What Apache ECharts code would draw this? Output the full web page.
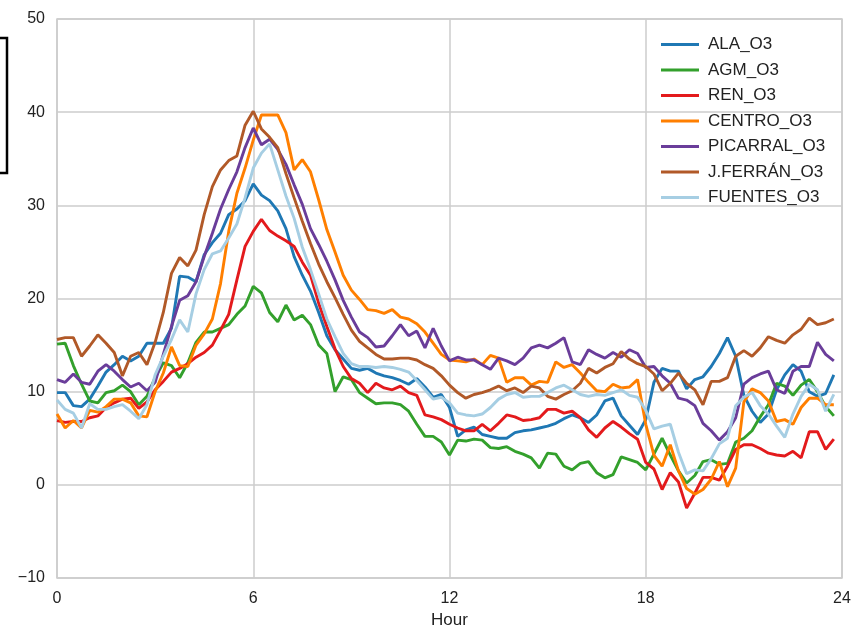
<!DOCTYPE html>
<html>
<head>
<meta charset="utf-8">
<title>O3 by hour</title>
<script src="https://cdn.jsdelivr.net/npm/echarts@6/dist/echarts.min.js"></script>
<style>
  html, body { margin: 0; padding: 0; background: #ffffff; }
  #chart { width: 854px; height: 632px; }
</style>
</head>
<body>
<div id="chart"></div>
<script>
// Quarter-hour sampling times over one day
const hours = Array.from({ length: 96 }, (_, i) => i * 0.25);

const xTicks = [0, 6, 12, 18, 24];
const yTicks = [-10, 0, 10, 20, 30, 40, 50];

const stationNames = ['ALA_O3', 'AGM_O3', 'REN_O3', 'CENTRO_O3', 'PICARRAL_O3', 'J.FERRÁN_O3', 'FUENTES_O3'];

const ala = [
  9.9, 9.9, 8.5, 8.4, 9.2, 10.6, 12.1, 12.9, 13.8, 13.3,
  13.8, 15.2, 15.2, 15.2, 16.8, 22.4, 22.3, 21.8, 24.7, 26.0,
  27.0, 29.0, 29.6, 30.5, 32.3, 31.1, 30.5, 29.4, 27.5, 24.5,
  22.5, 20.8, 18.5, 16.0, 14.5, 13.5, 12.5, 12.3, 12.5, 12.0,
  11.7, 11.5, 11.2, 10.8, 11.4, 10.5, 9.4, 9.7, 8.3, 5.2,
  5.9, 6.2, 5.4, 5.2, 5.0, 5.0, 5.6, 5.8, 5.9, 6.1,
  6.3, 6.6, 7.1, 7.5, 7.2, 6.7, 7.5, 9.0, 9.3, 7.4,
  6.4, 5.4, 7.0, 11.0, 12.5, 12.2, 12.2, 10.3, 11.3, 11.6,
  12.7, 14.1, 15.8, 13.8, 9.6, 7.9, 6.7, 7.6, 10.2, 11.8,
  12.9, 12.2, 10.0, 9.5, 9.8, 11.8
];

const agm = [
  15.1, 15.2, 12.8, 10.8, 9.0, 8.8, 9.9, 10.1, 10.7, 10.0,
  8.6, 9.5, 11.5, 13.1, 12.8, 11.5, 13.1, 15.3, 16.4, 16.4,
  16.8, 17.2, 18.3, 19.2, 21.3, 20.6, 18.5, 17.5, 19.3, 17.7,
  18.2, 17.2, 15.0, 14.1, 10.0, 11.6, 11.3, 9.9, 9.3, 8.7,
  8.8, 8.8, 8.6, 7.9, 6.5, 5.2, 5.2, 4.6, 3.2, 4.8,
  4.7, 4.9, 4.8, 4.0, 3.9, 4.1, 3.6, 3.3, 2.9, 1.8,
  3.4, 3.3, 2.0, 1.6, 2.3, 2.5, 1.3, 0.75, 1.1, 3.0,
  2.7, 2.4, 1.6, 3.3, 5.0, 3.2, 1.5, 0.2, 1.0, 2.5,
  2.7, 2.2, 2.3, 4.6, 5.0, 5.8, 7.3, 8.6, 10.9, 10.6,
  9.6, 10.7, 11.3, 10.0, 8.4, 7.4
];

const ren = [
  6.9, 6.7, 6.8, 6.8, 7.2, 7.4, 8.3, 8.8, 9.2, 9.3,
  8.2, 8.9, 10.2, 11.1, 12.1, 12.5, 13.0, 13.7, 14.2, 15.0,
  16.6, 18.3, 22.0, 25.6, 27.2, 28.5, 27.3, 26.7, 26.2, 25.6,
  23.9, 22.5, 19.5, 17.0, 14.6, 12.7, 11.4, 10.9, 9.9, 10.9,
  10.4, 10.2, 10.6, 9.9, 9.6, 7.5, 7.3, 7.0, 6.5, 6.1,
  5.8, 5.8, 6.5, 5.8, 6.6, 7.5, 7.3, 6.9, 7.0, 7.2,
  8.1, 8.1, 7.7, 7.9, 7.2, 5.9, 5.1, 6.1, 6.8, 6.2,
  5.5, 4.9, 2.4, 1.7, -0.5, 1.3, 0.3, -2.5, -0.9, 0.8,
  0.8, 0.5, 2.0, 3.8, 4.3, 4.3, 3.9, 3.4, 3.2, 3.1,
  3.6, 2.9, 5.7, 5.7, 3.8, 4.9
];

const centro = [
  7.6, 6.1, 6.9, 6.1, 8.0, 7.8, 8.4, 9.2, 9.2, 8.8,
  7.4, 7.3, 10.0, 12.0, 14.8, 12.8, 12.7, 15.0, 16.2, 17.8,
  21.6, 27.2, 31.3, 34.0, 37.0, 39.7, 39.7, 39.7, 37.8, 33.8,
  34.9, 33.6, 30.6, 27.4, 25.0, 22.5, 20.9, 19.9, 18.8, 18.7,
  18.4, 18.8, 18.0, 17.8, 17.3, 16.4, 15.2, 14.0, 13.4, 13.3,
  13.2, 13.5, 12.9, 13.9, 13.6, 11.0, 11.5, 11.5, 10.7, 11.1,
  11.0, 13.2, 12.6, 12.9, 12.0, 11.0, 10.1, 10.0, 10.8, 10.4,
  10.5, 11.3, 6.5, 3.2, 2.0, 4.3, 1.5, -0.4, -1.0, -0.5,
  0.6, 2.5, -0.2, 1.8, 8.9, 10.3, 9.9, 9.0, 6.8, 7.0,
  6.5, 8.3, 9.3, 9.3, 8.6, 8.6
];

const picarral = [
  11.3, 11.0, 11.9, 11.0, 10.8, 12.2, 12.9, 12.2, 11.3, 10.5,
  10.9, 10.1, 11.0, 14.0, 17.0, 19.8, 20.3, 21.8, 24.5, 27.0,
  29.6, 31.7, 33.6, 36.2, 38.3, 36.5, 37.1, 36.0, 34.4, 32.2,
  30.1, 27.5, 25.8, 24.0, 22.0, 19.8, 18.0, 16.4, 15.8, 14.8,
  14.9, 16.0, 17.2, 16.0, 16.5, 14.7, 16.8, 14.9, 13.3, 13.7,
  13.4, 13.4, 12.9, 12.4, 13.6, 13.3, 12.9, 13.6, 14.7, 15.0,
  14.7, 15.2, 15.8, 13.2, 12.9, 14.5, 14.0, 13.6, 14.2, 13.7,
  14.5, 14.1, 12.6, 12.7, 11.7, 10.9, 9.3, 9.1, 8.5, 6.6,
  5.8, 4.8, 5.7, 7.2, 10.8, 11.5, 11.9, 12.2, 10.2, 9.8,
  12.2, 12.7, 12.7, 15.3, 14.0, 13.3
];

const jferran = [
  15.6, 15.8, 15.8, 13.8, 14.9, 16.1, 15.2, 14.2, 11.7, 13.8,
  14.2, 12.9, 15.3, 18.5, 22.7, 24.4, 23.5, 25.2, 29.0, 32.0,
  33.8, 34.8, 35.3, 38.6, 40.1, 38.2, 37.3, 36.2, 33.4, 30.8,
  28.3, 25.9, 23.7, 21.8, 20.1, 18.3, 16.6, 15.4, 14.7, 14.0,
  13.5, 13.5, 13.6, 13.6, 13.4, 12.9, 12.5, 11.7, 10.7, 9.9,
  9.3, 9.7, 9.9, 10.2, 10.6, 10.1, 10.4, 9.9, 10.6, 10.4,
  9.5, 9.2, 9.7, 10.1, 10.9, 12.5, 12.0, 12.6, 13.0, 14.3,
  13.5, 13.0, 12.7, 11.9, 10.1, 10.9, 12.0, 10.9, 10.2, 8.6,
  11.1, 11.1, 11.5, 13.8, 14.4, 13.8, 14.7, 15.9, 15.5, 15.2,
  16.1, 16.7, 17.9, 17.2, 17.4, 17.8
];

const fuentes = [
  9.1, 8.1, 7.7, 6.1, 8.7, 8.1, 8.1, 8.4, 8.6, 7.9,
  7.1, 8.6, 11.8, 13.8, 15.6, 17.7, 16.4, 20.5, 23.1, 24.8,
  25.1, 26.5, 28.0, 30.8, 34.0, 35.6, 36.6, 33.8, 31.0, 28.6,
  25.5, 23.1, 20.5, 17.8, 15.9, 14.1, 13.0, 12.7, 12.7, 12.6,
  12.7, 12.6, 12.4, 12.1, 11.2, 10.2, 9.2, 9.4, 8.8, 7.7,
  7.5, 7.4, 7.6, 8.3, 9.2, 9.7, 9.9, 9.4, 9.5, 9.5,
  9.9, 10.4, 10.7, 10.2, 9.7, 9.5, 9.7, 9.6, 9.9, 10.2,
  9.6, 9.4, 8.0, 6.0, 6.3, 6.5, 3.5, 1.2, 1.6, 1.5,
  2.8, 4.4, 5.0, 8.5, 9.4, 9.9, 8.5, 7.6, 6.3, 5.1,
  7.6, 9.5, 10.8, 10.2, 7.9, 9.7
];

const stationValues = [ala, agm, ren, centro, picarral, jferran, fuentes];
const stationColors = ['#1f78b4', '#33a02c', '#e31a1c', '#ff7f00', '#6a3d9a', '#b15928', '#a6cee3'];

const FONT = '"Liberation Sans", Arial, Helvetica, sans-serif';
const GRID = '#cccccc';
const TEXT = '#222222';

const chart = echarts.init(document.getElementById('chart'), null, { renderer: 'canvas' });

const series = stationNames.map((name, k) => ({
  name: name,
  type: 'line',
  data: hours.map((h, i) => [h, stationValues[k][i]]),
  showSymbol: false,
  symbol: 'none',
  lineStyle: { width: 2.9, color: stationColors[k] },
  itemStyle: { color: stationColors[k] },
  emphasis: { disabled: true },
  z: 2 + k
}));

chart.setOption({
  animation: false,
  backgroundColor: '#ffffff',
  textStyle: { fontFamily: FONT },
  grid: {
    left: 57, right: 12, top: 19, bottom: 54,
    containLabel: false,
    outerBoundsMode: 'none',
    show: true, borderColor: GRID, borderWidth: 1.5,
    backgroundColor: 'transparent'
  },
  xAxis: {
    type: 'value',
    min: xTicks[0], max: xTicks[xTicks.length - 1], interval: 6,
    name: 'Hour', nameLocation: 'middle', nameGap: 34,
    nameTextStyle: { fontSize: 17, color: TEXT, fontFamily: FONT },
    axisLine: { show: false }, axisTick: { show: false },
    axisLabel: { fontSize: 16, color: TEXT, margin: 13, fontFamily: FONT },
    splitLine: { show: true, lineStyle: { color: GRID, width: 1.5 } }
  },
  yAxis: {
    type: 'value',
    min: yTicks[0], max: yTicks[yTicks.length - 1], interval: 10,
    axisLine: { show: false }, axisTick: { show: false },
    axisLabel: {
      fontSize: 16, color: TEXT, margin: 12, fontFamily: FONT,
      formatter: v => (v < 0 ? '\u2212' + Math.abs(v) : String(v))
    },
    splitLine: { show: true, lineStyle: { color: GRID, width: 1.5 } }
  },
  legend: {
    orient: 'vertical',
    left: 656, top: 31,
    icon: 'rect', itemWidth: 38, itemHeight: 3, itemGap: 8.5,
    selectedMode: false,
    textStyle: { fontSize: 17, color: TEXT, fontFamily: FONT, lineHeight: 17, padding: [0, 0, 0, 4] },
    data: stationNames
  },
  graphic: [{
    type: 'rect',
    shape: { x: -20, y: 38, width: 27, height: 135 },
    style: { fill: 'none', stroke: '#000000', lineWidth: 2.5 },
    silent: true
  }],
  series: series
});
</script>
</body>
</html>
